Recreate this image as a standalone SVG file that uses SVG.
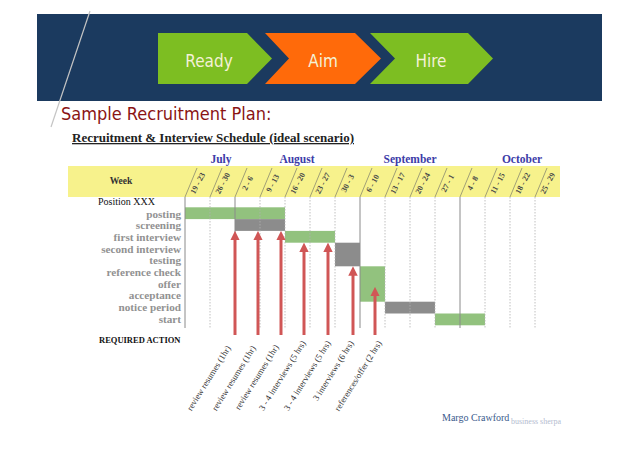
<svg xmlns="http://www.w3.org/2000/svg" width="638" height="451" viewBox="0 0 638 451">
<style>
.chev{font-family:"DejaVu Sans Condensed","DejaVu Sans",sans-serif;font-size:17px;fill:#f4f1d6;text-anchor:middle}
.title{font-family:"DejaVu Sans Condensed","DejaVu Sans",sans-serif;font-size:18px;fill:#8a1414}
.sub{font-family:"Liberation Serif",serif;font-weight:bold;font-size:13px;fill:#222;text-decoration:underline}
.month{font-family:"Liberation Serif",serif;font-weight:bold;font-size:11.5px;fill:#3c3ca8;text-anchor:middle}
.wk{font-family:"Liberation Serif",serif;font-weight:bold;font-size:8px;fill:#4a4a4a;text-anchor:middle}
.slash{stroke:#8a8a70;stroke-width:0.8}
.row{font-family:"Liberation Serif",serif;font-weight:bold;font-size:11.2px;fill:#929292;text-anchor:end}
.grid{stroke:#b0b0b0;stroke-width:0.8;stroke-dasharray:1.5 1.5}
.gridm{stroke:#8a8a8a;stroke-width:1}
.g{fill:#92c27e}
.k{fill:#8c8c8c}
.act{font-family:"Liberation Serif",serif;font-size:8.8px;fill:#333;text-anchor:end}
.arrow{stroke:#d05656;stroke-width:3;fill:none;marker-end:url(#ah)}
</style>
<defs>
<marker id="ah" viewBox="0 0 10 10" refX="4" refY="5" markerWidth="9.5" markerHeight="9.5" markerUnits="userSpaceOnUse" orient="auto">
<path d="M0,0 L10,5 L0,10 z" fill="#d05656"/>
</marker>
</defs>
<rect width="638" height="451" fill="#ffffff"/>
<g id="header">
<rect x="37" y="14" width="565" height="87" fill="#1b3a5f"/>
<line x1="90" y1="11" x2="51" y2="127" stroke="#c4c4c4" stroke-width="1.2"/>
</g>
<g id="ready">
<path d="M158,33 H247 L272,58.5 L247,84 H158 Z" fill="#7dbe22"/>
<text class="chev" x="209" y="66.5">Ready</text>
</g>
<g id="aim">
<path d="M265,33 H355 L381,58.5 L355,84 H265 L289,58.5 Z" fill="#ff6a0a"/>
<text class="chev" x="323" y="66.5">Aim</text>
</g>
<g id="hire">
<path d="M370,33 H468 L493,58.5 L468,84 H370 L395,58.5 Z" fill="#7dbe22"/>
<text class="chev" x="431" y="66.5">Hire</text>
</g>
<g id="titles">
<text class="title" x="61" y="120">Sample Recruitment Plan:</text>
<text class="sub" x="72" y="142">Recruitment &amp; Interview Schedule (ideal scenario)</text>
</g>
<g id="months">
<text class="month" x="221" y="162.5">July</text>
<text class="month" x="297" y="162.5">August</text>
<text class="month" x="410" y="162.5">September</text>
<text class="month" x="522" y="162.5">October</text>
</g>
<g id="weekband">
<rect x="68" y="166" width="492" height="31" fill="#f7f28c"/>
<text x="121" y="183.5" font-family="Liberation Serif, serif" font-weight="bold" font-size="9.5" fill="#333" text-anchor="middle">Week</text>
<g class="slash">
<line x1="185" y1="197" x2="197" y2="168"/><line x1="210" y1="197" x2="222" y2="168"/>
<line x1="235" y1="197" x2="247" y2="168"/><line x1="260" y1="197" x2="272" y2="168"/>
<line x1="285" y1="197" x2="297" y2="168"/><line x1="310" y1="197" x2="322" y2="168"/>
<line x1="335" y1="197" x2="347" y2="168"/><line x1="360" y1="197" x2="372" y2="168"/>
<line x1="385" y1="197" x2="397" y2="168"/><line x1="410" y1="197" x2="422" y2="168"/>
<line x1="435" y1="197" x2="447" y2="168"/><line x1="460" y1="197" x2="472" y2="168"/>
<line x1="485" y1="197" x2="497" y2="168"/><line x1="510" y1="197" x2="522" y2="168"/>
<line x1="535" y1="197" x2="547" y2="168"/>
</g>
<text class="wk" transform="translate(200,184.5) rotate(-62)">19 - 23</text>
<text class="wk" transform="translate(225,184.5) rotate(-62)">26 - 30</text>
<text class="wk" transform="translate(250,184.5) rotate(-62)">2 - 6</text>
<text class="wk" transform="translate(275,184.5) rotate(-62)">9 - 13</text>
<text class="wk" transform="translate(300,184.5) rotate(-62)">16 - 20</text>
<text class="wk" transform="translate(325,184.5) rotate(-62)">23 - 27</text>
<text class="wk" transform="translate(350,184.5) rotate(-62)">30 - 3</text>
<text class="wk" transform="translate(375,184.5) rotate(-62)">6 - 10</text>
<text class="wk" transform="translate(400,184.5) rotate(-62)">13 - 17</text>
<text class="wk" transform="translate(425,184.5) rotate(-62)">20 - 24</text>
<text class="wk" transform="translate(450,184.5) rotate(-62)">27 - 1</text>
<text class="wk" transform="translate(475,184.5) rotate(-62)">4 - 8</text>
<text class="wk" transform="translate(500,184.5) rotate(-62)">11 - 15</text>
<text class="wk" transform="translate(525,184.5) rotate(-62)">18 - 22</text>
<text class="wk" transform="translate(550,184.5) rotate(-62)">25 - 29</text>
</g>
<g id="rows">
<text x="98" y="205" font-family="Liberation Serif, serif" font-size="10" fill="#111">Position XXX</text>
<text class="row" x="181" y="217.5">posting</text>
<text class="row" x="181" y="229.2">screening</text>
<text class="row" x="181" y="240.9">first interview</text>
<text class="row" x="181" y="252.6">second interview</text>
<text class="row" x="181" y="264.3">testing</text>
<text class="row" x="181" y="276">reference check</text>
<text class="row" x="181" y="287.7">offer</text>
<text class="row" x="181" y="299.4">acceptance</text>
<text class="row" x="181" y="311.1">notice period</text>
<text class="row" x="181" y="322.8">start</text>
</g>
<g id="bars">
<rect class="g" x="185" y="207.3" width="100" height="11.8"/>
<rect class="k" x="235" y="219.1" width="50" height="11.8"/>
<rect class="g" x="285" y="230.9" width="50" height="11.8"/>
<rect class="k" x="335" y="242.7" width="25" height="23.6"/>
<rect class="g" x="360" y="266.3" width="25" height="35.4"/>
<rect class="k" x="385" y="301.7" width="50" height="11.8"/>
<rect class="g" x="435" y="313.5" width="50" height="11.8"/>
</g>
<g id="grid">
<line class="gridm" x1="185" y1="197" x2="185" y2="328"/>
<line class="grid" x1="210" y1="197" x2="210" y2="328"/>
<line class="gridm" x1="235" y1="197" x2="235" y2="328"/>
<line class="grid" x1="260" y1="197" x2="260" y2="328"/>
<line class="grid" x1="285" y1="197" x2="285" y2="328"/>
<line class="grid" x1="310" y1="197" x2="310" y2="328"/>
<line class="grid" x1="335" y1="197" x2="335" y2="328"/>
<line class="gridm" x1="360" y1="197" x2="360" y2="328"/>
<line class="grid" x1="385" y1="197" x2="385" y2="328"/>
<line class="grid" x1="410" y1="197" x2="410" y2="328"/>
<line class="grid" x1="435" y1="197" x2="435" y2="328"/>
<line class="gridm" x1="460" y1="197" x2="460" y2="328"/>
<line class="grid" x1="485" y1="197" x2="485" y2="328"/>
<line class="grid" x1="510" y1="197" x2="510" y2="328"/>
<line class="grid" x1="535" y1="197" x2="535" y2="328"/>
</g>
<g id="connectors">
<line class="arrow" x1="235" y1="335" x2="235" y2="236.6"/>
<line class="arrow" x1="258" y1="335" x2="258" y2="236.6"/>
<line class="arrow" x1="281" y1="335" x2="281" y2="236.6"/>
<line class="arrow" x1="304" y1="335" x2="304" y2="248.3"/>
<line class="arrow" x1="328" y1="335" x2="328" y2="248.3"/>
<line class="arrow" x1="353" y1="335" x2="353" y2="271.9"/>
<line class="arrow" x1="375" y1="335" x2="375" y2="292.6"/>
</g>
<g id="actions">
<text x="99" y="342.5" font-family="Liberation Serif, serif" font-weight="bold" font-size="8.5" fill="#111">REQUIRED ACTION</text>
<text class="act" transform="translate(231,348) rotate(-58)">review resumes (1hr)</text>
<text class="act" transform="translate(256,348) rotate(-58)">review resumes (1hr)</text>
<text class="act" transform="translate(279,347) rotate(-58)">review resumes (1hr)</text>
<text class="act" transform="translate(306,343) rotate(-58)">3 - 4 interviews (5 hrs)</text>
<text class="act" transform="translate(331,343) rotate(-58)">3 - 4 interviews (5 hrs)</text>
<text class="act" transform="translate(354,343) rotate(-58)">3 interviews (6 hrs)</text>
<text class="act" transform="translate(382,343) rotate(-58)">references/offer (2 hrs)</text>
</g>
<g id="footer">
<text x="442" y="420.5" font-family="Liberation Serif, serif" font-size="10" fill="#3b5a8c">Margo Crawford</text>
<text x="511" y="423.5" font-family="Liberation Serif, serif" font-size="8" fill="#b4bccf">business sherpa</text>
</g>
</svg>
